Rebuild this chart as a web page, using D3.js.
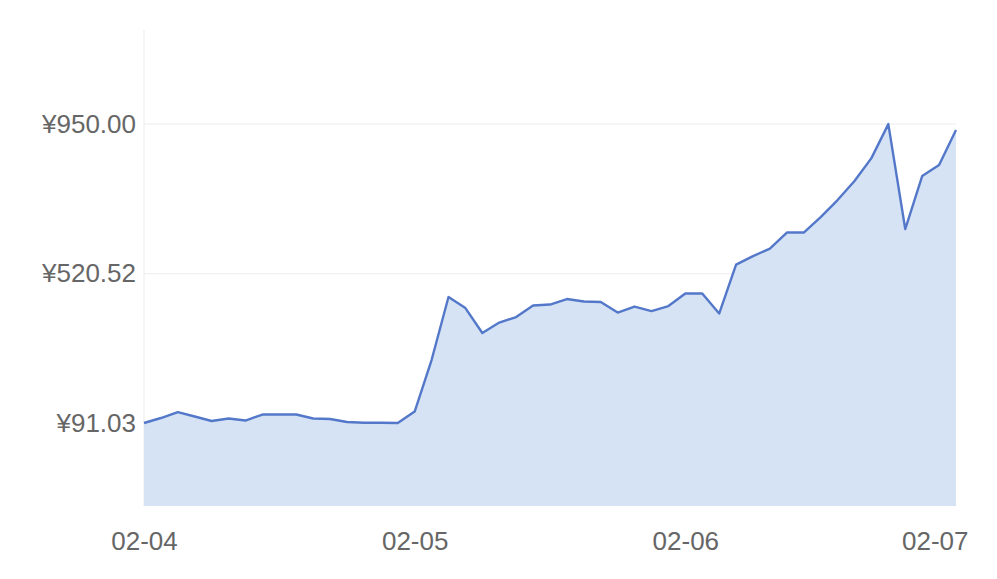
<!DOCTYPE html>
<html>
<head>
<meta charset="utf-8">
<script src="https://cdn.jsdelivr.net/npm/d3@7/dist/d3.min.js"></script>
<style>
  html, body { margin: 0; padding: 0; background: #ffffff; }
  svg { display: block; }
  text { font-family: "Liberation Sans", Arial, sans-serif; }
</style>
</head>
<body>
<svg id="chart" width="997" height="579"></svg>
<script>
// ---- data ----
const times = [
  "02-04 00:00","02-04 01:30","02-04 03:00","02-04 04:30","02-04 06:00","02-04 07:30","02-04 09:00","02-04 10:30",
  "02-04 12:00","02-04 13:30","02-04 15:00","02-04 16:30","02-04 18:00","02-04 19:30","02-04 21:00","02-04 22:30",
  "02-05 00:00","02-05 01:30","02-05 03:00","02-05 04:30","02-05 06:00","02-05 07:30","02-05 09:00","02-05 10:30",
  "02-05 12:00","02-05 13:30","02-05 15:00","02-05 16:30","02-05 18:00","02-05 19:30","02-05 21:00","02-05 22:30",
  "02-06 00:00","02-06 01:30","02-06 03:00","02-06 04:30","02-06 06:00","02-06 07:30","02-06 09:00","02-06 10:30",
  "02-06 12:00","02-06 13:30","02-06 15:00","02-06 16:30","02-06 18:00","02-06 19:30","02-06 21:00","02-06 22:30",
  "02-07 00:00"
];
const prices = [
  91.03, 105.4, 122.6, 109.7, 96.8, 104.0, 98.2, 115.5,
  115.5, 115.5, 104.0, 102.5, 93.9, 92.0, 91.9, 90.9,
  124.1, 272.0, 453.0, 421.4, 349.6, 379.7, 395.5, 428.6,
  431.5, 447.3, 440.1, 438.6, 408.5, 425.7, 412.8, 427.1,
  463.1, 463.1, 405.6, 546.4, 570.8, 592.3, 638.3, 638.3,
  682.8, 731.7, 786.3, 852.3, 950.0, 648.4, 800.6, 832.2,
  932.8
];
const yTicks = [91.03, 520.52, 950.00];
const xTickLabels = ["02-04", "02-05", "02-06", "02-07"];
const yDomain = [-147.4, 1220.4];

// ---- layout ----
const svg = d3.select("#chart");
const mLeft = 144, mRight = 956, mTop = 30, mBottom = 506;

const parse = d3.timeParse("%m-%d %H:%M");
const data = times.map((t, i) => ({ t: parse(t), v: prices[i] }));
const tickDates = xTickLabels.map(s => parse(s + " 00:00"));

const x = d3.scaleTime()
  .domain([tickDates[0], tickDates[tickDates.length - 1]])
  .range([mLeft, mRight]);
const y = d3.scaleLinear().domain(yDomain).range([mBottom, mTop]);

// gridlines
svg.append("g")
  .selectAll("line")
  .data(yTicks)
  .join("line")
  .attr("x1", mLeft).attr("x2", mRight)
  .attr("y1", d => y(d)).attr("y2", d => y(d))
  .attr("stroke", "#f0f0f0").attr("stroke-width", 1.2);

// left axis line
svg.append("line")
  .attr("x1", mLeft).attr("x2", mLeft)
  .attr("y1", mTop).attr("y2", mBottom)
  .attr("stroke", "#eeeeee").attr("stroke-width", 1.2);

// area
const area = d3.area()
  .x(d => x(d.t))
  .y0(mBottom)
  .y1(d => y(d.v));
svg.append("path")
  .datum(data)
  .attr("d", area)
  .attr("fill", "#d6e3f5");

// line
const line = d3.line().x(d => x(d.t)).y(d => y(d.v));
svg.append("path")
  .datum(data)
  .attr("d", line)
  .attr("fill", "none")
  .attr("stroke", "#5478c9")
  .attr("stroke-width", 2.4)
  .attr("stroke-linejoin", "round");

// y axis labels
const yAxis = d3.axisLeft(y)
  .tickValues(yTicks)
  .tickFormat(d => "¥" + d3.format(".2f")(d))
  .tickSize(0)
  .tickPadding(8);
const gy = svg.append("g").attr("transform", `translate(${mLeft},0)`).call(yAxis);
gy.select(".domain").remove();
gy.selectAll("text")
  .attr("fill", "#666666")
  .style("font-size", "26px");

// x axis labels
const xAxis = d3.axisBottom(x)
  .tickValues(tickDates)
  .tickFormat(d3.timeFormat("%m-%d"))
  .tickSize(0)
  .tickPadding(26);
const gx = svg.append("g").attr("transform", `translate(0,${mBottom})`).call(xAxis);
gx.select(".domain").remove();
gx.selectAll("text")
  .attr("fill", "#666666")
  .style("font-size", "26px");
gx.selectAll("text").filter((d, i) => i === tickDates.length - 1)
  .attr("text-anchor", "end")
  .attr("dx", 12);
</script>
</body>
</html>
